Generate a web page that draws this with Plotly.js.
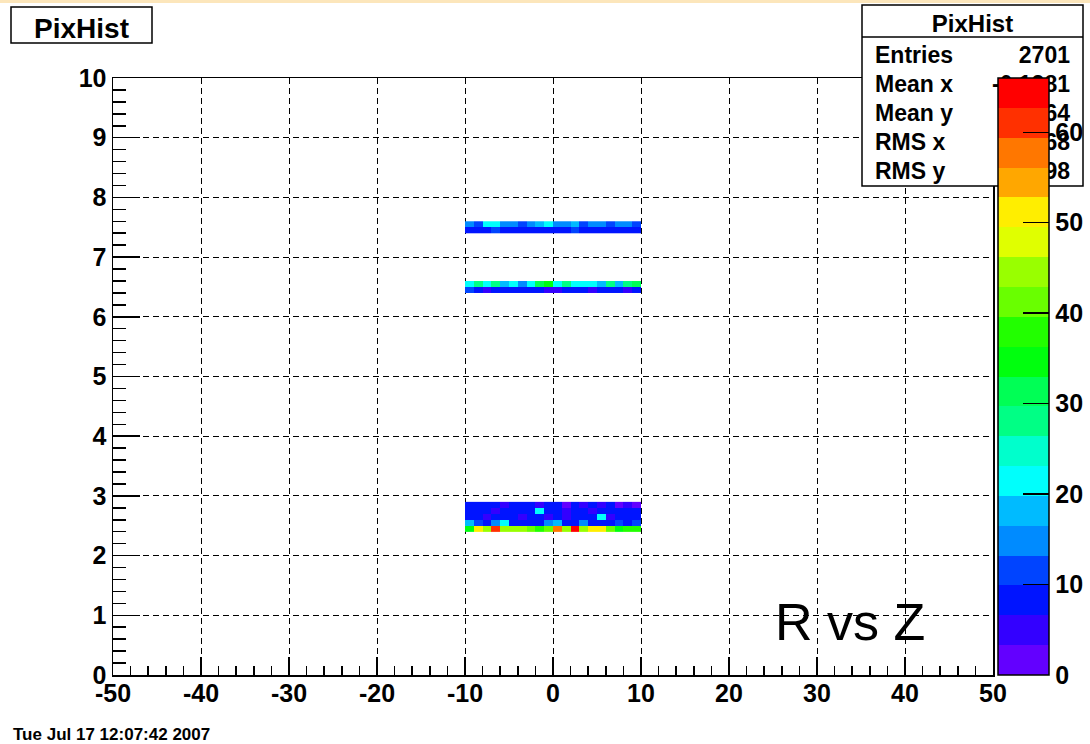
<!DOCTYPE html>
<html>
<head>
<meta charset="utf-8">
<script src="https://cdn.plot.ly/plotly-3.0.1.min.js"></script>
<style>
  html, body { margin: 0; padding: 0; background: #ffffff; }
  #chart { width: 1090px; height: 744px; }
</style>
</head>
<body>
<div id="chart"></div>
<script>
// ---------------- data ----------------
const histTitle = "PixHist";
const plotLabel = "R vs Z";
const dateText = "Tue Jul 17 12:07:42 2007";

// bin centres along Z (x), bin width 1
const xCenters = [-9.5, -8.5, -7.5, -6.5, -5.5, -4.5, -3.5, -2.5, -1.5, -0.5,
                  0.5, 1.5, 2.5, 3.5, 4.5, 5.5, 6.5, 7.5, 8.5, 9.5];

// band near R = 2.5 (bin width 0.1)
const band1Y = [2.45, 2.55, 2.65, 2.75, 2.85];
const band1Z = [
  [36, 51, 45, 61, 44, 43, 45, 41, 37, 41, 57, 44, 63, 43, 51, 52, 40, 36, 37, 37],
  [18, 10,  9, 14, 21,  9,  8,  9,  8, 15, 17,  9,  9, 14,  8,  9,  8, 10,  8, 12],
  [ 7,  8,  5,  8,  7,  8,  6,  7,  8,  6,  7,  6,  7,  8,  7, 21,  6,  8,  7,  8],
  [ 8,  7,  8,  6,  8,  7,  8,  8, 21,  7,  8,  6,  7,  8,  6,  7,  8,  7,  8,  7],
  [ 7,  7,  8,  7,  6,  7,  7,  7,  6,  7,  7,  3,  7,  6,  7,  6,  7,  3,  6,  3]
];

// band near R = 6.5
const band2Y = [6.45, 6.55];
const band2Z = [
  [11,  9,  5,  8,  8,  9,  8,  8,  8,  5,  5,  8,  9,  8,  5,  8,  9,  8,  5,  9],
  [21, 28, 21, 28, 18, 21, 16, 21, 31, 33, 21, 27, 21, 21, 20, 17, 27, 18, 29, 30]
];

// band near R = 7.5
const band3Y = [7.45, 7.55];
const band3Z = [
  [ 9,  8,  9, 10,  8,  9,  8,  9,  8,  9,  9,  8, 10,  8,  9,  8,  9,  8,  9,  8],
  [15, 12, 20, 21, 15, 14, 12, 16, 19, 22, 14, 15, 17, 12, 14, 16, 12, 15, 14, 13]
];

// axis ticks
const xTickVals = [-50, -40, -30, -20, -10, 0, 10, 20, 30, 40, 50];
const xTickText = ["-50", "-40", "-30", "-20", "-10", "0", "10", "20", "30", "40", "50"];
const yTickVals = [0, 1, 2, 3, 4, 5, 6, 7, 8, 9, 10];
const zTickVals = [0, 10, 20, 30, 40, 50, 60];

// statistics box
const statLabels = ["Entries", "Mean x", "Mean y", "RMS x", "RMS y"];
const statValues = ["2701", "-0.1281", "4.364", "5.768", "2.198"];

// palette: ROOT pretty palette hues for the 20 contour levels
const levelHues = [263.2, 252, 235.2, 224, 207.2, 196, 179.2, 168, 151.2, 140,
                   123.2, 112, 95.2, 84, 67.2, 56, 39.2, 28, 11.2, 0];

// ---------------- geometry helpers (pixels -> paper) ----------------
const L = 113, R = 993, T = 78, B = 675;
function px(x) { return (x - L) / (R - L); }
function py(y) { return (B - y) / (B - T); }

const FONT = "Liberation Sans, Arial, Helvetica, sans-serif";

// stepped colorscale
const nLev = levelHues.length;
const colorscale = [];
levelHues.forEach((h, k) => {
  const c = "hsl(" + h + ",100%,50%)";
  colorscale.push([k / nLev, c]);
  colorscale.push([(k + 1) / nLev, c]);
});

function band(y, z) {
  return {
    type: "heatmap", x: xCenters, y: y, z: z,
    coloraxis: "coloraxis", hoverinfo: "x+y+z", zsmooth: false
  };
}
const data = [band(band1Y, band1Z), band(band2Y, band2Z), band(band3Y, band3Z)];

// ---------------- shapes (boxes) ----------------
const shapes = [];
shapes.push({type: "rect", xref: "paper", yref: "paper", layer: "above",
  x0: px(0), x1: px(1090), y0: py(0), y1: py(3),
  fillcolor: "#fce6bb", line: {width: 0}});

shapes.push({type: "rect", xref: "paper", yref: "paper", layer: "above",
  x0: px(11), x1: px(152), y0: py(43), y1: py(7),
  fillcolor: "white", line: {color: "black", width: 1.5},
  label: {text: "<b>" + histTitle + "</b>", textposition: "middle center", padding: 0,
          font: {family: FONT, size: 28, color: "black"}}});

shapes.push({type: "rect", xref: "paper", yref: "paper", layer: "above",
  x0: px(862), x1: px(1083), y0: py(186), y1: py(5),
  fillcolor: "white", line: {color: "black", width: 1.5}});
shapes.push({type: "line", xref: "paper", yref: "paper", layer: "above",
  x0: px(862), x1: px(1083), y0: py(37), y1: py(37),
  line: {color: "black", width: 1.5}});
shapes.push({type: "rect", xref: "paper", yref: "paper", layer: "above",
  x0: px(862), x1: px(1083), y0: py(37), y1: py(6),
  fillcolor: "rgba(0,0,0,0)", line: {width: 0},
  label: {text: "<b>" + histTitle + "</b>", textposition: "middle center", padding: 0,
          font: {family: FONT, size: 24, color: "black"}}});
const rowCenters = [53, 82, 111, 140, 169];
statLabels.forEach((lab, i) => {
  const yc = rowCenters[i];
  shapes.push({type: "rect", xref: "paper", yref: "paper", layer: "above",
    x0: px(872), x1: px(1073), y0: py(yc + 12), y1: py(yc - 12),
    fillcolor: "rgba(0,0,0,0)", line: {width: 0},
    label: {text: "<b>" + lab + "</b>", textposition: "middle left", padding: 0,
            font: {family: FONT, size: 23, color: "black"}}});
  shapes.push({type: "rect", xref: "paper", yref: "paper", layer: "above",
    x0: px(872), x1: px(1073), y0: py(yc + 12), y1: py(yc - 12),
    fillcolor: "rgba(0,0,0,0)", line: {width: 0},
    label: {text: "<b>" + statValues[i] + "</b>", textposition: "middle right", padding: 0,
            font: {family: FONT, size: 23, color: "black"}}});
});

// ---------------- annotations ----------------
const annotations = [
  {xref: "paper", yref: "paper", x: px(850), y: py(622), xanchor: "center", yanchor: "middle",
   text: plotLabel, showarrow: false, font: {family: FONT, size: 52, color: "black"}},
  {xref: "paper", yref: "paper", x: px(11), y: py(734), xanchor: "left", yanchor: "middle",
   text: "<b>" + dateText + "</b>", showarrow: false, font: {family: FONT, size: 17, color: "black"}}
];

const tickFont = {family: FONT, size: 25, color: "black", weight: "bold"};

const layout = {
  width: 1090, height: 744,
  margin: {l: L, r: 1090 - R, t: T, b: 744 - B, pad: 0, autoexpand: false},
  paper_bgcolor: "white", plot_bgcolor: "white",
  showlegend: false,
  xaxis: {
    range: [-50, 50], tickmode: "array", tickvals: xTickVals, ticktext: xTickText,
    showline: true, mirror: true, linecolor: "black", linewidth: 1.5,
    ticks: "inside", ticklen: 18, tickwidth: 1.5, tickcolor: "black",
    showgrid: true, gridcolor: "black", gridwidth: 1, griddash: "6px,4px",
    zeroline: false, tickfont: tickFont, fixedrange: true, ticklabelstandoff: -5,
    minor: {dtick: 2, tick0: -50, ticks: "inside", ticklen: 9, tickwidth: 1.5,
            tickcolor: "black", showgrid: false}
  },
  yaxis: {
    range: [0, 10], tickmode: "array", tickvals: yTickVals,
    showline: true, mirror: true, linecolor: "black", linewidth: 1.5,
    ticks: "inside", ticklen: 27, tickwidth: 1.5, tickcolor: "black",
    showgrid: true, gridcolor: "black", gridwidth: 1, griddash: "6px,4px",
    zeroline: false, tickfont: tickFont, fixedrange: true,
    minor: {dtick: 0.2, tick0: 0, ticks: "inside", ticklen: 13, tickwidth: 1.5,
            tickcolor: "black", showgrid: false}
  },
  coloraxis: {
    cmin: 0, cmax: 66, colorscale: colorscale,
    colorbar: {
      x: px(998), xanchor: "left", xref: "paper", xpad: 0,
      y: 0, yanchor: "bottom", yref: "paper", ypad: 0,
      len: 1, lenmode: "fraction", thickness: 51, thicknessmode: "pixels",
      outlinecolor: "black", outlinewidth: 1.5,
      ticks: "inside", ticklen: 26, tickwidth: 1.5, tickcolor: "black",
      tickmode: "array", tickvals: zTickVals,
      tickfont: tickFont
    }
  },
  shapes: shapes,
  annotations: annotations
};

Plotly.newPlot("chart", data, layout, {displayModeBar: false, staticPlot: true});
</script>
</body>
</html>
